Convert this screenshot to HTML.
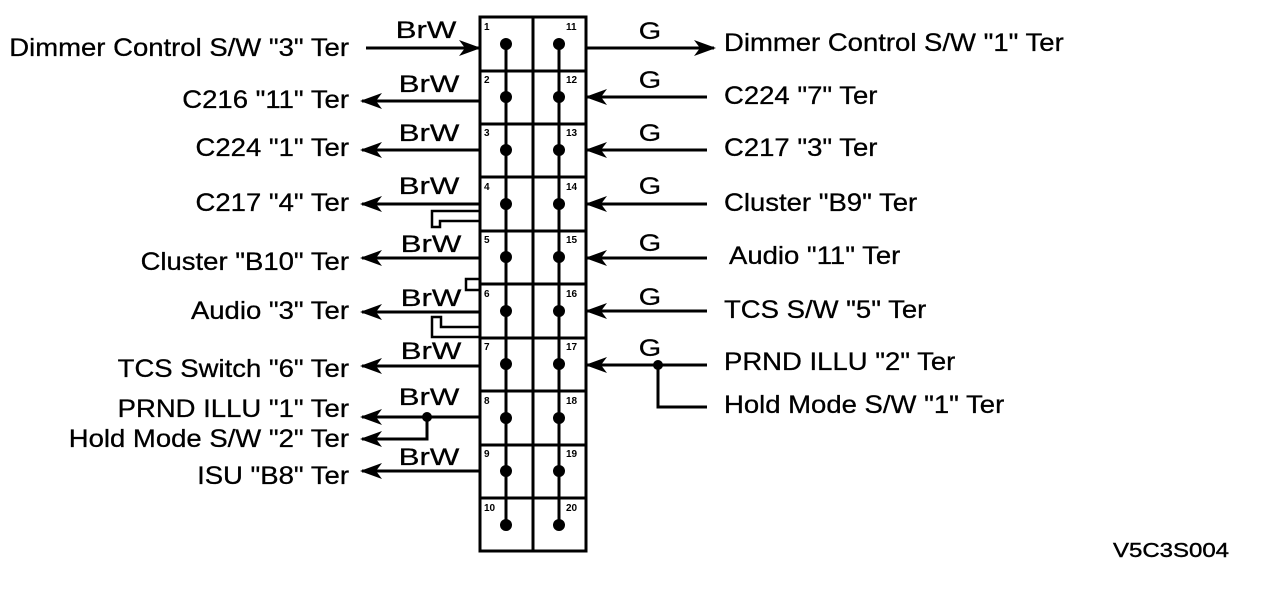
<!DOCTYPE html>
<html><head><meta charset="utf-8"><style>
html,body{margin:0;padding:0;background:#fff;}
svg{display:block;}
text{font-family:"Liberation Sans",Arial,sans-serif;fill:#000;}
.l{font-size:25px;text-anchor:end;stroke:#000;stroke-width:0.3;}
.r{font-size:25px;stroke:#000;stroke-width:0.3;}
.w{font-size:24px;text-anchor:middle;stroke:#000;stroke-width:0.3;}
.n{font-size:10px;font-weight:bold;}
</style></head><body>
<svg width="1264" height="614" viewBox="0 0 1264 614" xmlns="http://www.w3.org/2000/svg">
<defs>
<marker id="a" markerUnits="userSpaceOnUse" markerWidth="22" markerHeight="16" refX="20" refY="8" orient="auto">
<path d="M0,0 L22,8 L0,16 L6,8 z" fill="#000"/>
</marker>
</defs>
<g stroke="#000" stroke-width="3" fill="none">
<rect x="480" y="17" width="106" height="534" stroke-width="3"/>
<line x1="533" y1="17" x2="533" y2="551"/>
<line x1="480" y1="71" x2="586" y2="71"/>
<line x1="480" y1="124" x2="586" y2="124"/>
<line x1="480" y1="177" x2="586" y2="177"/>
<line x1="480" y1="231" x2="586" y2="231"/>
<line x1="480" y1="284" x2="586" y2="284"/>
<line x1="480" y1="338" x2="586" y2="338"/>
<line x1="480" y1="391" x2="586" y2="391"/>
<line x1="480" y1="445" x2="586" y2="445"/>
<line x1="480" y1="498" x2="586" y2="498"/>
<line x1="506" y1="43" x2="506" y2="524"/>
<line x1="559" y1="43" x2="559" y2="524"/>
<line x1="366" y1="48" x2="479" y2="48" marker-end="url(#a)"/>
<line x1="479" y1="101" x2="362" y2="101" marker-end="url(#a)"/>
<line x1="479" y1="150" x2="362" y2="150" marker-end="url(#a)"/>
<line x1="479" y1="204" x2="362" y2="204" marker-end="url(#a)"/>
<line x1="479" y1="258" x2="362" y2="258" marker-end="url(#a)"/>
<line x1="479" y1="312" x2="362" y2="312" marker-end="url(#a)"/>
<line x1="479" y1="366" x2="362" y2="366" marker-end="url(#a)"/>
<line x1="479" y1="417" x2="362" y2="417" marker-end="url(#a)"/>
<polyline points="427,417 427,439 362,439" marker-end="url(#a)"/>
<line x1="479" y1="471" x2="362" y2="471" marker-end="url(#a)"/>
<line x1="587" y1="48" x2="714" y2="48" marker-end="url(#a)"/>
<line x1="707" y1="97" x2="587" y2="97" marker-end="url(#a)"/>
<line x1="707" y1="150" x2="587" y2="150" marker-end="url(#a)"/>
<line x1="707" y1="204" x2="587" y2="204" marker-end="url(#a)"/>
<line x1="707" y1="258" x2="587" y2="258" marker-end="url(#a)"/>
<line x1="707" y1="311" x2="587" y2="311" marker-end="url(#a)"/>
<line x1="707" y1="365" x2="587" y2="365" marker-end="url(#a)"/>
<polyline points="658,365 658,407 707,407"/>
<polyline points="479,211 432,211 432,227 440,227 440,221 479,221" stroke-width="2.5"/>
<polyline points="479,279 466,279 466,290 479,290" stroke-width="2.5"/>
<polyline points="479,327 441,327 441,317 432,317 432,337 479,337" stroke-width="2.5"/>
</g>
<g fill="#000">
<circle cx="506" cy="44" r="6"/><circle cx="559" cy="44" r="6"/>
<circle cx="506" cy="97" r="6"/><circle cx="559" cy="97" r="6"/>
<circle cx="506" cy="150" r="6"/><circle cx="559" cy="150" r="6"/>
<circle cx="506" cy="204" r="6"/><circle cx="559" cy="204" r="6"/>
<circle cx="506" cy="257" r="6"/><circle cx="559" cy="257" r="6"/>
<circle cx="506" cy="311" r="6"/><circle cx="559" cy="311" r="6"/>
<circle cx="506" cy="364" r="6"/><circle cx="559" cy="364" r="6"/>
<circle cx="506" cy="418" r="6"/><circle cx="559" cy="418" r="6"/>
<circle cx="506" cy="471" r="6"/><circle cx="559" cy="471" r="6"/>
<circle cx="506" cy="525" r="6"/><circle cx="559" cy="525" r="6"/>
<circle cx="427" cy="417" r="5"/><circle cx="658" cy="365" r="5"/>
</g>
<g>
<text class="n" x="484" y="30">1</text><text class="n" x="566" y="30">11</text>
<text class="n" x="484" y="83">2</text><text class="n" x="566" y="83">12</text>
<text class="n" x="484" y="136">3</text><text class="n" x="566" y="136">13</text>
<text class="n" x="484" y="190">4</text><text class="n" x="566" y="190">14</text>
<text class="n" x="484" y="243">5</text><text class="n" x="566" y="243">15</text>
<text class="n" x="484" y="297">6</text><text class="n" x="566" y="297">16</text>
<text class="n" x="484" y="350">7</text><text class="n" x="566" y="350">17</text>
<text class="n" x="484" y="404">8</text><text class="n" x="566" y="404">18</text>
<text class="n" x="484" y="457">9</text><text class="n" x="566" y="457">19</text>
<text class="n" x="484" y="511">10</text><text class="n" x="566" y="511">20</text>
</g>
<text class="l" transform="translate(349,56) scale(1.1,1)">Dimmer Control S/W "3" Ter</text>
<text class="l" transform="translate(349,108) scale(1.1,1)">C216 "11" Ter</text>
<text class="l" transform="translate(349,156) scale(1.1,1)">C224 "1" Ter</text>
<text class="l" transform="translate(349,211) scale(1.1,1)">C217 "4" Ter</text>
<text class="l" transform="translate(349,270) scale(1.1,1)">Cluster "B10" Ter</text>
<text class="l" transform="translate(349,319) scale(1.1,1)">Audio "3" Ter</text>
<text class="l" transform="translate(349,377) scale(1.1,1)">TCS Switch "6" Ter</text>
<text class="l" transform="translate(349,417) scale(1.1,1)">PRND ILLU "1" Ter</text>
<text class="l" transform="translate(349,447) scale(1.1,1)">Hold Mode S/W "2" Ter</text>
<text class="l" transform="translate(349,484) scale(1.1,1)">ISU "B8" Ter</text>
<text class="w" transform="translate(426,38) scale(1.3,1)">BrW</text>
<text class="w" transform="translate(429,92) scale(1.3,1)">BrW</text>
<text class="w" transform="translate(429,141) scale(1.3,1)">BrW</text>
<text class="w" transform="translate(429,194) scale(1.3,1)">BrW</text>
<text class="w" transform="translate(431,252) scale(1.3,1)">BrW</text>
<text class="w" transform="translate(431,306) scale(1.3,1)">BrW</text>
<text class="w" transform="translate(431,359) scale(1.3,1)">BrW</text>
<text class="w" transform="translate(429,405) scale(1.3,1)">BrW</text>
<text class="w" transform="translate(429,465) scale(1.3,1)">BrW</text>
<text class="w" transform="translate(650,39) scale(1.2,1)">G</text>
<text class="w" transform="translate(650,88) scale(1.2,1)">G</text>
<text class="w" transform="translate(650,141) scale(1.2,1)">G</text>
<text class="w" transform="translate(650,194) scale(1.2,1)">G</text>
<text class="w" transform="translate(650,251) scale(1.2,1)">G</text>
<text class="w" transform="translate(650,305) scale(1.2,1)">G</text>
<text class="w" transform="translate(650,356) scale(1.2,1)">G</text>
<text class="r" transform="translate(724,51) scale(1.1,1)">Dimmer Control S/W "1" Ter</text>
<text class="r" transform="translate(724,104) scale(1.1,1)">C224 "7" Ter</text>
<text class="r" transform="translate(724,156) scale(1.1,1)">C217 "3" Ter</text>
<text class="r" transform="translate(724,211) scale(1.1,1)">Cluster "B9" Ter</text>
<text class="r" transform="translate(729,264) scale(1.1,1)">Audio "11" Ter</text>
<text class="r" transform="translate(724,318) scale(1.1,1)">TCS S/W "5" Ter</text>
<text class="r" transform="translate(724,370) scale(1.1,1)">PRND ILLU "2" Ter</text>
<text class="r" transform="translate(724,413) scale(1.1,1)">Hold Mode S/W "1" Ter</text>
<text transform="translate(1113,557) scale(1.2,1)" style="font-size:20px;stroke:#000;stroke-width:0.4;">V5C3S004</text>
</svg>
</body></html>
